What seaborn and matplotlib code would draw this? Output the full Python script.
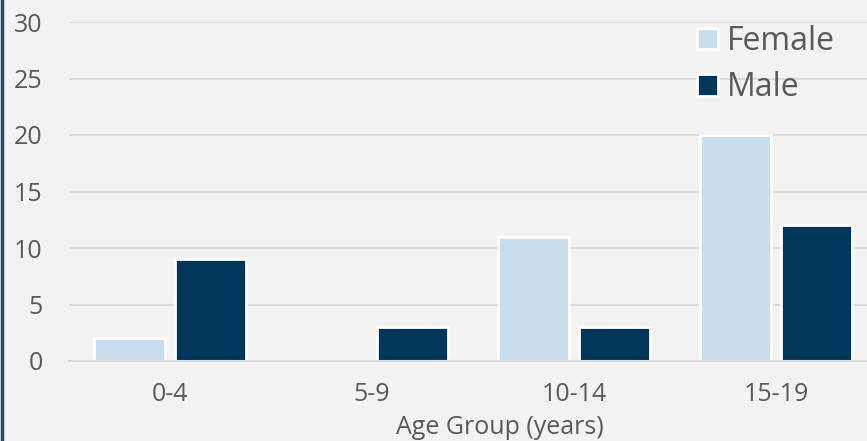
import pandas as pd
import numpy as np
import matplotlib.pyplot as plt
import seaborn as sns
from matplotlib.lines import Line2D

# data
age_groups = ["0-4", "5-9", "10-14", "15-19"]
female = [2, 0, 11, 20]
male = [9, 3, 3, 12]

df = pd.DataFrame({
    "age_group": age_groups * 2,
    "sex": ["Female"] * 4 + ["Male"] * 4,
    "count": female + male,
})

sns.set_style("white")
plt.rcParams['font.family'] = ['Open Sans', 'DejaVu Sans']

text_color = '#595959'
grid_color = '#d9d9d9'

fig = plt.figure(figsize=(8.67, 4.41), dpi=100)
fig.patch.set_facecolor('#f2f2f2')
ax = fig.add_axes([69 / 867, 1 - 361 / 441, 808 / 867, 339 / 441])
ax.set_facecolor('#f2f2f2')

sns.barplot(
    data=df,
    x='age_group',
    y='count',
    hue='sex',
    palette={'Female': '#c9deed', 'Male': '#003659'},
    saturation=1,
    width=0.8,
    gap=0.12,
    edgecolor='white',
    linewidth=2,
    ax=ax,
)

ax.set_ylim(0, 30)
ax.set_yticks(range(0, 31, 5))
ax.yaxis.grid(True, color=grid_color, linewidth=1.5)
ax.set_axisbelow(True)
for s in ['top', 'right', 'left']:
    ax.spines[s].set_visible(False)
ax.spines['bottom'].set_color(grid_color)
ax.spines['bottom'].set_linewidth(1.5)

ax.tick_params(axis='y', length=0, pad=19, labelsize=18, labelcolor=text_color)
ax.tick_params(axis='x', length=0, pad=15, labelsize=18, labelcolor=text_color)
ax.set_ylabel('')
ax.set_xlabel('')

fig.text(500 / 867, 1 - 428 / 441, 'Age Group (years)', ha='center', va='center',
         fontsize=18, color=text_color)

leg = ax.legend(
    loc='upper left',
    bbox_to_anchor=(684 / 867, 1 - 12 / 441),
    bbox_transform=fig.transFigure,
    frameon=False,
    fontsize=23,
    handlelength=0.65,
    handleheight=0.65,
    handletextpad=0.3,
    labelspacing=0.42,
    borderaxespad=0,
)
for t in leg.get_texts():
    t.set_color(text_color)

# dark left border
fig.add_artist(Line2D([1.5 / 867, 1.5 / 867], [0, 1], color='#1d4a6e',
                      linewidth=2.5, transform=fig.transFigure))

plt.savefig('out.png', dpi=100, facecolor=fig.get_facecolor())
